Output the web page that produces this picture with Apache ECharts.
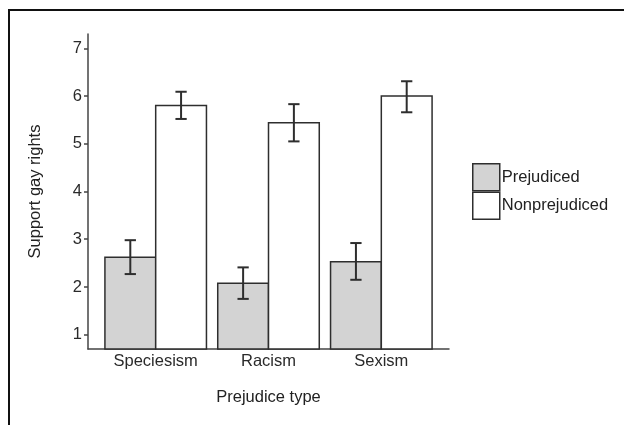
<!DOCTYPE html>
<html>
<head>
<meta charset="utf-8">
<script src="https://cdn.jsdelivr.net/npm/echarts@6/dist/echarts.min.js"></script>
<style>
  html, body { margin: 0; padding: 0; background: #fff; }
  #chart { width: 624px; height: 425px; }
</style>
</head>
<body>
<div id="chart"></div>
<script>
// data
const categories = ['Speciesism', 'Racism', 'Sexism'];
const prejudiced = [2.62, 2.08, 2.53];
const prejudicedLow = [2.27, 1.75, 2.15];
const prejudicedHigh = [2.98, 2.41, 2.92];
const nonprejudiced = [5.80, 5.44, 6.00];
const nonprejudicedLow = [5.52, 5.05, 5.66];
const nonprejudicedHigh = [6.09, 5.83, 6.31];
const yTicks = [1, 2, 3, 4, 5, 6, 7];

const Y_MIN = 0.7;
const Y_MAX = 7.3;
const BAR_W = 0.45;   // in category units
const CAP_W = 0.1;
const INK = '#2e2e2e';
const FONT = 'Liberation Sans, Arial, sans-serif';
const FS = 16.5;

const chart = echarts.init(document.getElementById('chart'));

// 柱子 + 误差线
function makeRender(offset, fill) {
  return function (params, api) {
    const x = api.value(0) + offset;
    const v = api.value(1);
    const lo = api.value(2);
    const hi = api.value(3);
    const tl = api.coord([x - BAR_W / 2, v]);
    const br = api.coord([x + BAR_W / 2, Y_MIN]);
    const top = api.coord([x, hi]);
    const bot = api.coord([x, lo]);
    const capL = api.coord([x - CAP_W / 2, hi])[0];
    const capR = api.coord([x + CAP_W / 2, hi])[0];
    const errStyle = { stroke: INK, lineWidth: 2 };
    return {
      type: 'group',
      children: [
        {
          type: 'rect',
          shape: { x: tl[0], y: tl[1], width: br[0] - tl[0], height: br[1] - tl[1] },
          style: { fill: fill, stroke: INK, lineWidth: 1.5 }
        },
        { type: 'line', shape: { x1: top[0], y1: top[1], x2: bot[0], y2: bot[1] }, style: errStyle },
        { type: 'line', shape: { x1: capL, y1: top[1], x2: capR, y2: top[1] }, style: errStyle },
        { type: 'line', shape: { x1: capL, y1: bot[1], x2: capR, y2: bot[1] }, style: errStyle }
      ]
    };
  };
}

const prejData = categories.map((c, i) => [i + 1, prejudiced[i], prejudicedLow[i], prejudicedHigh[i]]);
const nonData = categories.map((c, i) => [i + 1, nonprejudiced[i], nonprejudicedLow[i], nonprejudicedHigh[i]]);

const option = {
  animation: false,
  backgroundColor: '#fff',
  textStyle: { fontFamily: FONT },
  grid: { left: 88, right: 175, top: 34, bottom: 76 },
  legend: {
    orient: 'vertical',
    left: 472,
    top: 163,
    padding: 0,
    itemGap: 0,
    itemWidth: 27,
    itemHeight: 27,
    icon: 'rect',
    textStyle: { fontSize: FS, color: '#222', fontFamily: FONT, padding: [0, 0, 0, -3] },
    data: [
      { name: 'Prejudiced', itemStyle: { color: '#d3d3d3', borderColor: INK, borderWidth: 1.5 } },
      { name: 'Nonprejudiced', itemStyle: { color: '#ffffff', borderColor: INK, borderWidth: 1.5 } }
    ]
  },
  xAxis: {
    type: 'value',
    min: 0.4,
    max: 3.6,
    name: 'Prejudice type',
    nameLocation: 'middle',
    nameGap: 40,
    nameTextStyle: { fontSize: FS, color: '#222', fontFamily: FONT },
    axisLine: { show: true, onZero: false, lineStyle: { color: '#444', width: 1.5 } },
    axisTick: { show: false },
    splitLine: { show: false },
    axisLabel: {
      customValues: [1, 2, 3],
      formatter: v => categories[Math.round(v) - 1],
      fontSize: FS,
      color: '#2a2a2a',
      margin: 4,
      fontFamily: FONT
    }
  },
  yAxis: {
    type: 'value',
    min: Y_MIN,
    max: Y_MAX,
    name: 'Support gay rights',
    nameLocation: 'middle',
    nameGap: 44,
    nameTextStyle: { fontSize: FS, color: '#222', fontFamily: FONT },
    axisLine: { show: true, lineStyle: { color: '#444', width: 1.5 } },
    axisTick: { show: true, length: 4, customValues: yTicks, lineStyle: { color: '#444', width: 1.5 } },
    splitLine: { show: false },
    axisLabel: { customValues: yTicks, fontSize: FS, color: '#2a2a2a', margin: 6, fontFamily: FONT }
  },
  graphic: [
    { type: 'line', shape: { x1: 8, y1: 10, x2: 624, y2: 10 }, style: { stroke: '#111', lineWidth: 2 } },
    { type: 'line', shape: { x1: 9, y1: 10, x2: 9, y2: 425 }, style: { stroke: '#111', lineWidth: 2 } }
  ],
  series: [
    {
      name: 'Prejudiced',
      type: 'custom',
      clip: false,
      itemStyle: { color: '#d3d3d3', borderColor: INK },
      renderItem: makeRender(-BAR_W / 2, '#d3d3d3'),
      encode: { x: 0, y: [1, 2, 3] },
      data: prejData
    },
    {
      name: 'Nonprejudiced',
      type: 'custom',
      clip: false,
      itemStyle: { color: '#ffffff', borderColor: INK },
      renderItem: makeRender(BAR_W / 2, '#ffffff'),
      encode: { x: 0, y: [1, 2, 3] },
      data: nonData
    }
  ]
};

chart.setOption(option);
</script>
</body>
</html>
